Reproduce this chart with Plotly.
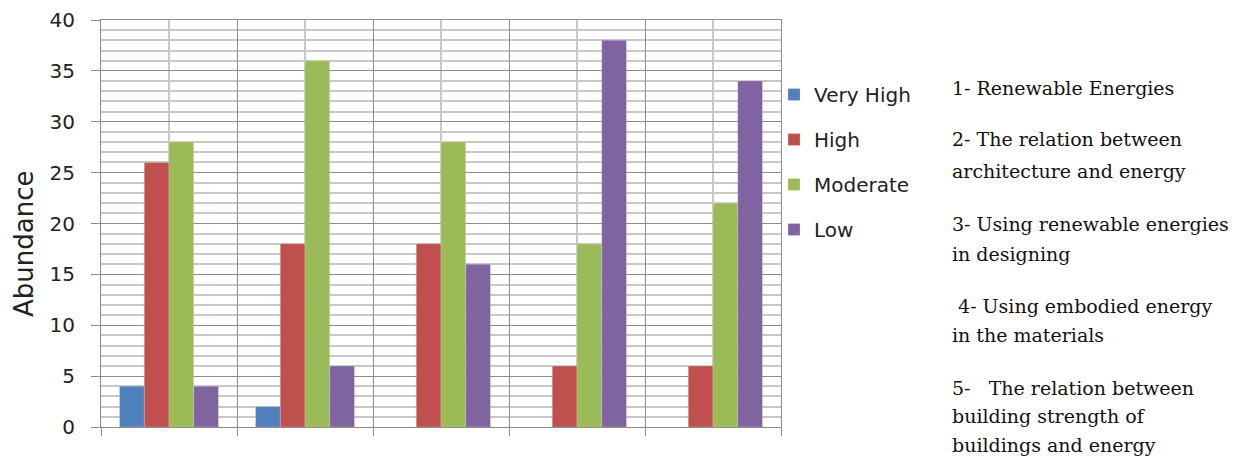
import plotly.graph_objects as go

# Survey responses per topic
topics = [1, 2, 3, 4, 5]
levels = ["Very High", "High", "Moderate", "Low"]
very_high = [4, 2, 0, 0, 0]
high = [26, 18, 18, 6, 6]
moderate = [28, 36, 28, 18, 22]
low = [4, 6, 16, 38, 34]
colors = ["#4f81bd", "#c0504d", "#9bbb59", "#8064a2"]

# Key to the topic numbers, one entry per printed line (text, baseline y in px)
note_lines = [
    ("1- Renewable Energies", 95),
    ("2- The relation between", 146),
    ("architecture and energy", 178),
    ("3- Using renewable energies", 231),
    ("in designing", 261),
    (" 4- Using embodied energy", 313),
    ("in the materials", 342),
    ("5-   The relation between", 395),
    ("building strength of", 423),
    ("buildings and energy", 452),
]

W, H = 1236, 459
L, R, T, B = 101, 455, 20, 32
pw, ph = W - L - R, H - T - B

fig = go.Figure()
for name, vals, c in zip(levels, [very_high, high, moderate, low], colors):
    fig.add_trace(go.Bar(
        x=topics, y=vals, name=name, legendgroup=name,
        marker=dict(color=c, line=dict(color="rgba(255,255,255,0.35)", width=0.6)),
    ))

fig.update_layout(
    width=W, height=H,
    margin=dict(l=L, r=R, t=T, b=B, pad=0, autoexpand=False),
    paper_bgcolor="white", plot_bgcolor="white",
    barmode="group", bargap=0.273, bargroupgap=0,
    font=dict(family="DejaVu Sans", color="#222"),
    showlegend=True,
    legend=dict(
        x=(774 - L) / pw, xanchor="left",
        y=1 - (75 - T) / ph, yanchor="top",
        font=dict(size=20, family="DejaVu Sans", color="#222"),
        tracegroupgap=16, itemwidth=30,
        bgcolor="rgba(0,0,0,0)",
    ),
    xaxis=dict(
        range=[0.5, 5.5], tick0=0.5, dtick=1, automargin=False,
        showticklabels=False, ticks="outside", ticklen=8, tickcolor="#8c8c8c",
        showgrid=True, gridcolor="#8c8c8c", gridwidth=1,
        minor=dict(tick0=0, dtick=1, showgrid=True, gridcolor="#c8c8c8", gridwidth=1.5),
        showline=True, linecolor="#8c8c8c", linewidth=1, mirror=True,
        zeroline=False,
    ),
    yaxis=dict(
        range=[0, 40], dtick=5, automargin=False,
        ticks="outside", ticklen=9, tickcolor="#8c8c8c", ticklabelstandoff=12,
        tickfont=dict(size=20, family="DejaVu Sans", color="#222"),
        showgrid=True, gridcolor="#8c8c8c", gridwidth=1,
        minor=dict(dtick=1, showgrid=True, gridcolor="#c8c8c8", gridwidth=1.5),
        showline=True, linecolor="#8c8c8c", linewidth=1, mirror=True,
        zeroline=False,
    ),
)

# Axis title
fig.add_annotation(
    text="Abundance", textangle=-90, showarrow=False,
    xref="paper", yref="paper",
    x=(24 - L) / pw, y=(H - B - 244) / ph, xanchor="center", yanchor="middle",
    font=dict(size=26, family="DejaVu Sans", color="#222"),
)

# Topic key on the right
for txt, base in note_lines:
    fig.add_annotation(
        text=txt, showarrow=False, align="left",
        xref="paper", yref="paper",
        x=(950 - L) / pw, y=(H - B - base - 6) / ph, xanchor="left", yanchor="bottom",
        font=dict(size=19, family="DejaVu Serif", color="#111"),
    )

fig.write_html("out.html")
